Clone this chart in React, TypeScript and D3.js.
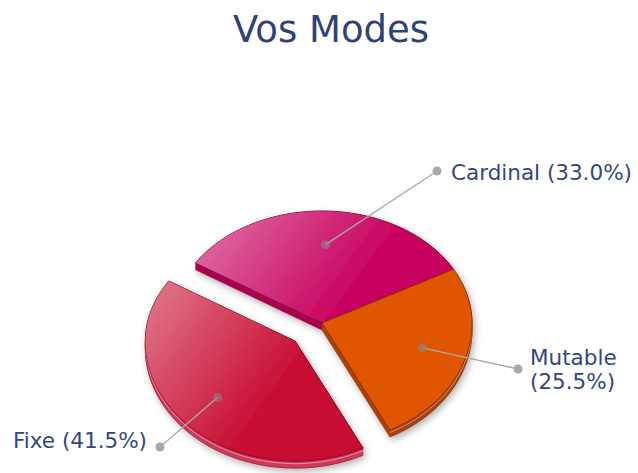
import React from "react";
import * as d3 from "d3";

const categories = ["Cardinal", "Mutable", "Fixe"];
const values = [33.0, 25.5, 41.5];
const topColors = ["#c8005f", "#e05506", "#c80a30"];
const sideColors = ["#a8004e", "#a94210", "#cc3a5c"];
const edgeColors = ["#8a0040", "#8a3508", "#8a0620"];
const title = "Vos Modes";

const W = 638;
const H = 473;
const cx = 322;
const cy = 323;
const rx = 150;
const ryBack = 112;
const ryFront = 120;
const depth = 7;
const startDeg = 302.5;

export default function App() {
  const pie = d3
    .pie<number>()
    .sort(null)
    .startAngle((startDeg * Math.PI) / 180)
    .endAngle((startDeg * Math.PI) / 180 + 2 * Math.PI);
  const arcs = pie(values);

  const explode = [0, 0, 36];
  const labelAnchors: [number, number][] = [
    [437, 171],
    [518, 369],
    [160, 447],
  ];

  const line = d3
    .line<[number, number]>()
    .x((d) => d[0])
    .y((d) => d[1]);

  const slices = arcs.map((a, i) => {
    const mid = (a.startAngle + a.endAngle) / 2;
    const ox = explode[i] * Math.sin(mid);
    const oy = -explode[i] * Math.cos(mid) * 0.75;
    const c: [number, number] = [cx + ox, cy + oy];
    const pt = (ang: number, r = 1): [number, number] => {
      const cs = Math.cos(ang);
      const ry = cs > 0 ? ryBack : ryFront;
      return [c[0] + rx * r * Math.sin(ang), c[1] - ry * r * cs];
    };
    const n = 80;
    const arcPts: [number, number][] = d3
      .range(n + 1)
      .map((k) => pt(a.startAngle + ((a.endAngle - a.startAngle) * k) / n));
    const poly: [number, number][] = [c, ...arcPts];
    const front = arcPts.filter((_, k) => {
      const ang = a.startAngle + ((a.endAngle - a.startAngle) * k) / n;
      return Math.cos(ang) < 0.05;
    });
    const inner = pt(mid, 0.7);
    return { poly, front, inner, c, i };
  });

  const shift = (pts: [number, number][], dy: number) =>
    pts.map((p) => [p[0], p[1] + dy] as [number, number]);

  return (
    <svg width={W} height={H} style={{ display: "block", position: "absolute", left: 0, top: 0 }}>
      <defs>
        <linearGradient id="shine" gradientUnits="userSpaceOnUse" x1={140} y1={230} x2={330} y2={370}>
          <stop offset="0" stopColor="#ffffff" stopOpacity={0.55} />
          <stop offset="0.9" stopColor="#ffffff" stopOpacity={0} />
        </linearGradient>
        <filter id="shadow" x="-20%" y="-20%" width="140%" height="140%">
          <feDropShadow dx={2} dy={3} stdDeviation={3.5} floodColor="#000" floodOpacity={0.3} />
        </filter>
      </defs>
      <rect width={W} height={H} fill="#ffffff" />
      <text
        x={331}
        y={42}
        textAnchor="middle"
        fontFamily="DejaVu Sans"
        fontSize={37}
        fill="#2f4178"
      >
        {title}
      </text>
      <g filter="url(#shadow)">
        {slices.map((s) => (
          <g key={s.i}>
            {d3.range(depth, 0, -1).map((k) => (
              <path
                key={k}
                d={line(shift(s.poly, k)) + "Z"}
                fill={sideColors[s.i]}
                stroke={sideColors[s.i]}
                strokeWidth={0.6}
              />
            ))}
            <path
              d={line(shift(s.front, depth))!}
              fill="none"
              stroke={edgeColors[s.i]}
              strokeWidth={0.8}
              opacity={0.6}
            />
            <path
              d={line(shift(s.front, 2.5))!}
              fill="none"
              stroke="#ffffff"
              strokeWidth={0.8}
              opacity={0.55}
            />
            <path
              d={line(s.poly) + "Z"}
              fill={topColors[s.i]}
              stroke={edgeColors[s.i]}
              strokeWidth={1}
              strokeLinejoin="round"
            />
            <path d={line(s.poly) + "Z"} fill="url(#shine)" />
          </g>
        ))}
      </g>
      {slices.map((s) => {
        const o = labelAnchors[s.i];
        return (
          <g key={"l" + s.i}>
            <line x1={s.inner[0]} y1={s.inner[1]} x2={o[0]} y2={o[1]} stroke="#a8a8a8" strokeWidth={1.3} />
            <circle cx={s.inner[0]} cy={s.inner[1]} r={4.5} fill="#8a8a8a" opacity={0.55} />
            <circle cx={o[0]} cy={o[1]} r={4.5} fill="#a8a8a8" />
          </g>
        );
      })}
      <g fontFamily="DejaVu Sans" fontSize={21.5} fill="#34467f">
        <text x={451} y={180}>
          {`${categories[0]} (${values[0].toFixed(1)}%)`}
        </text>
        <text x={530} y={365}>
          {categories[1]}
        </text>
        <text x={530} y={389}>
          {`(${values[1].toFixed(1)}%)`}
        </text>
        <text x={147} y={448} textAnchor="end">
          {`${categories[2]} (${values[2].toFixed(1)}%)`}
        </text>
      </g>
    </svg>
  );
}
